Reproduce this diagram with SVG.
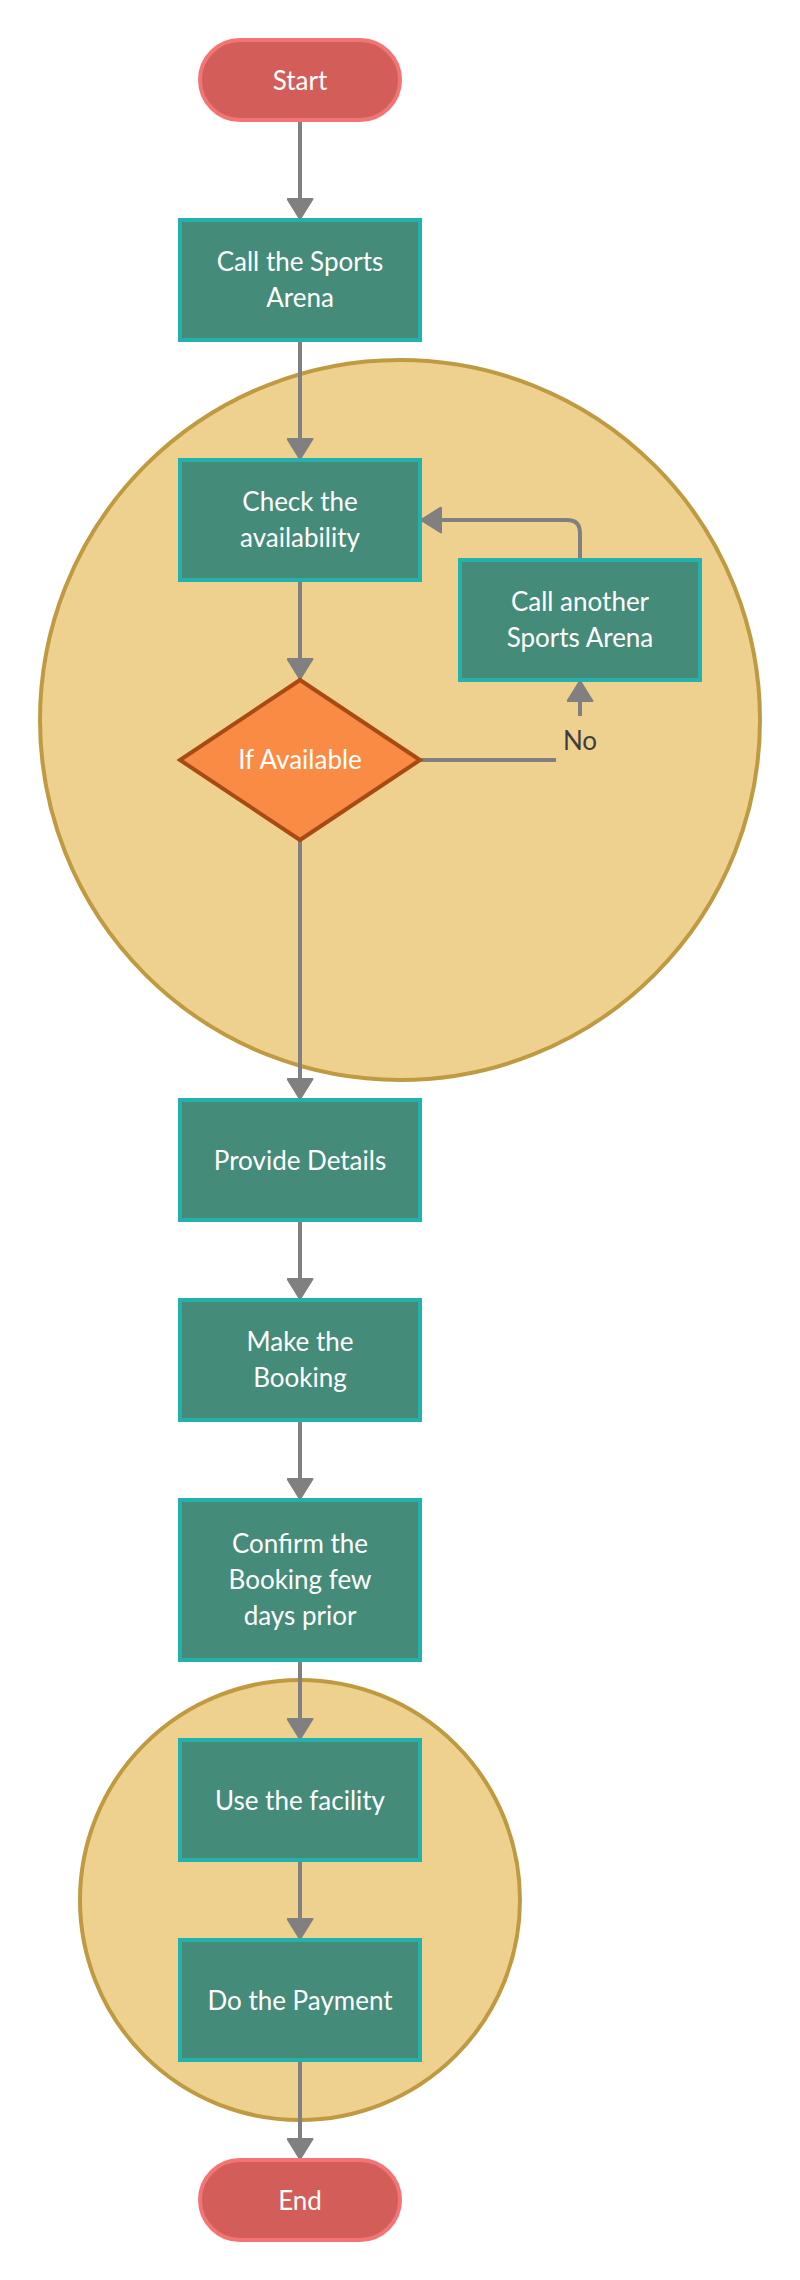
<svg xmlns="http://www.w3.org/2000/svg" width="800" height="2280" viewBox="0 0 800 2280">
<defs>
<style>
.group{fill:#efd18f;stroke:#c09a40;stroke-width:4}
.box{fill:#458b79;stroke:#24b1ac;stroke-width:4}
.term{fill:#d35d58;stroke:#f47474;stroke-width:4}
.dec{fill:#f98b45;stroke:#a84a12;stroke-width:4;stroke-linejoin:miter}
.lbl{font-family:Lato,"Liberation Sans",sans-serif;font-size:26px;fill:#ffffff;text-anchor:middle}
.edge{fill:none;stroke:#808080;stroke-width:4}
.elbl{font-family:Lato,"Liberation Sans",sans-serif;font-size:26px;fill:#3d3d3d;text-anchor:middle}
</style>
<marker id="arr" viewBox="0 0 22 27" refX="21" refY="13.5" markerWidth="22" markerHeight="27" markerUnits="userSpaceOnUse" orient="auto">
<path d="M1,1 L21,13.5 L1,26 z" fill="#808080" stroke="#808080" stroke-width="2" stroke-linejoin="round"/>
</marker>
</defs>
<rect width="800" height="2280" fill="#ffffff"/>
<g id="groups">
<circle class="group" cx="400" cy="720" r="360"/>
<circle class="group" cx="300" cy="1900" r="220"/>
</g>
<g id="connectors">
<path class="edge" d="M300,120 L300,219" marker-end="url(#arr)"/>
<path class="edge" d="M300,340 L300,459" marker-end="url(#arr)"/>
<path class="edge" d="M300,580 L300,679" marker-end="url(#arr)"/>
<path class="edge" d="M580,560 L580,533 Q580,520 567,520 L421,520" marker-end="url(#arr)"/>
<path class="edge" d="M420,760 L556,760"/>
<path class="edge" d="M580,716 L580,681" marker-end="url(#arr)"/>
<text class="elbl" x="580" y="750">No</text>
<path class="edge" d="M300,840 L300,1099" marker-end="url(#arr)"/>
<path class="edge" d="M300,1220 L300,1299" marker-end="url(#arr)"/>
<path class="edge" d="M300,1420 L300,1499" marker-end="url(#arr)"/>
<path class="edge" d="M300,1660 L300,1739" marker-end="url(#arr)"/>
<path class="edge" d="M300,1860 L300,1939" marker-end="url(#arr)"/>
<path class="edge" d="M300,2060 L300,2159" marker-end="url(#arr)"/>
</g>
<g id="start">
<rect class="term" x="200" y="40" width="200" height="80" rx="40" ry="40"/>
<text class="lbl" x="300" y="90">Start</text>
</g>
<g id="call-arena">
<rect class="box" x="180" y="220" width="240" height="120"/>
<text class="lbl" x="300" y="271">Call the Sports</text>
<text class="lbl" x="300" y="307">Arena</text>
</g>
<g id="check-availability">
<rect class="box" x="180" y="460" width="240" height="120"/>
<text class="lbl" x="300" y="511">Check the</text>
<text class="lbl" x="300" y="547">availability</text>
</g>
<g id="call-another">
<rect class="box" x="460" y="560" width="240" height="120"/>
<text class="lbl" x="580" y="611">Call another</text>
<text class="lbl" x="580" y="647">Sports Arena</text>
</g>
<g id="if-available">
<polygon class="dec" points="300,680 420,760 300,840 180,760"/>
<text class="lbl" x="300" y="769">If Available</text>
</g>
<g id="provide-details">
<rect class="box" x="180" y="1100" width="240" height="120"/>
<text class="lbl" x="300" y="1170">Provide Details</text>
</g>
<g id="make-booking">
<rect class="box" x="180" y="1300" width="240" height="120"/>
<text class="lbl" x="300" y="1351">Make the</text>
<text class="lbl" x="300" y="1387">Booking</text>
</g>
<g id="confirm-booking">
<rect class="box" x="180" y="1500" width="240" height="160"/>
<text class="lbl" x="300" y="1553">Confirm the</text>
<text class="lbl" x="300" y="1589">Booking few</text>
<text class="lbl" x="300" y="1625">days prior</text>
</g>
<g id="use-facility">
<rect class="box" x="180" y="1740" width="240" height="120"/>
<text class="lbl" x="300" y="1810">Use the facility</text>
</g>
<g id="do-payment">
<rect class="box" x="180" y="1940" width="240" height="120"/>
<text class="lbl" x="300" y="2010">Do the Payment</text>
</g>
<g id="end">
<rect class="term" x="200" y="2160" width="200" height="80" rx="40" ry="40"/>
<text class="lbl" x="300" y="2210">End</text>
</g>
</svg>
